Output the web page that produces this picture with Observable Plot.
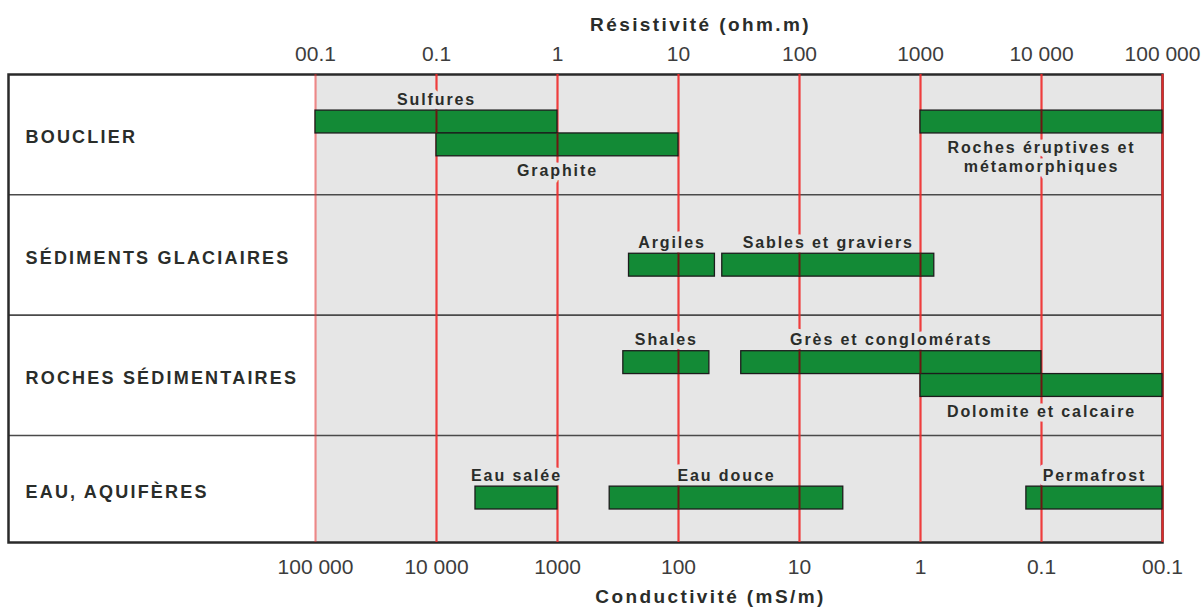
<!DOCTYPE html>
<html><head><meta charset="utf-8">
<script src="https://cdn.jsdelivr.net/npm/d3@7"></script>
<script src="https://cdn.jsdelivr.net/npm/@observablehq/plot@0.6"></script>
<style>
body{margin:0;background:#fff}
g[font-size="16"][font-weight="bold"]{letter-spacing:1.9px}
g[font-size="18"][font-weight="bold"]{letter-spacing:2.2px}
g[font-size="19"][font-weight="bold"]{letter-spacing:2.4px}
</style></head><body><div id="chart"></div>
<script>
// ---- data ----
const categories = ["BOUCLIER", "SÉDIMENTS GLACIAIRES", "ROCHES SÉDIMENTAIRES", "EAU, AQUIFÈRES"];
const materials = ["Sulfures", "Graphite", "Roches éruptives et\nmétamorphiques", "Argiles", "Sables et graviers", "Shales", "Grès et conglomérats", "Dolomite et calcaire", "Eau salée", "Eau douce", "Permafrost"];
const materialCategory = [0, 0, 0, 1, 1, 2, 2, 2, 3, 3, 3];
const resMin = [0.01, 0.1, 1000, 3.9, 23, 3.5, 33, 1000, 0.21, 2.7, 7500];     // ohm.m
const resMax = [1, 10, 100000, 20, 1300, 18, 10000, 100000, 1, 230, 100000];  // ohm.m
const lane = ["haut", "bas", "haut", "bas", "bas", "haut", "haut", "bas", "bas", "bas", "bas"];
const labelSide = ["dessus", "dessous", "dessous", "dessus", "dessus", "dessus", "dessus", "dessous", "dessus", "dessus", "dessus"];
const resTicks = [0.01, 0.1, 1, 10, 100, 1000, 10000, 100000];
const resTickLabels = ["00.1", "0.1", "1", "10", "100", "1000", "10 000", "100 000"];
const condTickLabels = ["100 000", "10 000", "1000", "100", "10", "1", "0.1", "00.1"];
const titleTop = "Résistivité (ohm.m)";
const titleBottom = "Conductivité (mS/m)";

// ---- layout helpers ----
const yMax = 3.89;
const laneFrac = {haut: 0.395, bas: 0.585};
const half = 0.095;
const rowH = r => Math.min(1, yMax - r);
const bars = materials.map((name, i) => {
  const r = materialCategory[i];
  const c = r + laneFrac[lane[i]] * rowH(r);
  return {name, x1: resMin[i], x2: resMax[i], y1: c - half, y2: c + half, side: labelSide[i]};
});
const above = bars.filter(d => d.side === "dessus");
const below = bars.filter(d => d.side === "dessous");
const rows = categories.map((c, i) => ({c, y: i + rowH(i) / 2}));
// grid lines seen through the bars
const crossings = bars.flatMap(b => resTicks.filter(t => t > b.x1 && t < b.x2).map(t => ({x: t, y1: b.y1, y2: b.y2})));

const GREEN = "#138a36", GRAY = "#e6e6e6", RED = "#f02a2a", INK = "#2a2d2a";
const labelStyle = {fontSize: 16, fontWeight: "bold"};
const haloStyle = {...labelStyle, text: "name", fill: GRAY, stroke: GRAY, strokeWidth: 9, strokeLinejoin: "round"};
const midX = d => Math.sqrt(d.x1 * d.x2);

const chart = Plot.plot({
  width: 1203, height: 607,
  marginLeft: 8, marginRight: 41, marginTop: 74, marginBottom: 65,
  style: {fontFamily: "'Liberation Sans', Arial, sans-serif", background: "#fff"},
  x: {type: "log", domain: [0.01, 100000], range: [315, 1162], axis: null},
  y: {domain: [0, yMax], reverse: true, axis: null},
  marks: [
    Plot.rect([0], {x1: () => resTicks[0], x2: () => resTicks[resTicks.length - 1], y1: () => 0, y2: () => yMax, fill: GRAY}),
    Plot.ruleY([1, 2, 3], {stroke: "#4a4a4a", strokeWidth: 1.6}),
    Plot.frame({stroke: "#2a2a2a", strokeWidth: 2.5}),
    Plot.ruleX(resTicks, {x: d => d, y1: 0, y2: yMax, stroke: RED, strokeWidth: 2.2,
      strokeOpacity: d => d === resTicks[0] ? 0.5 : 0.9}),
    // label background boxes hide the grid lines
    Plot.text(above, {x: midX, y: "y1", lineAnchor: "bottom", dy: -6, ...haloStyle}),
    Plot.text(below, {x: midX, y: "y2", lineAnchor: "top", lineHeight: 1.2, dy: 6, ...haloStyle}),
    Plot.rect(bars, {x1: "x1", x2: "x2", y1: "y1", y2: "y2", fill: GREEN, stroke: "#1c1c1c", strokeWidth: 1.3}),
    Plot.ruleX(crossings, {x: "x", y1: "y1", y2: "y2", stroke: "#6a1712", strokeWidth: 2}),
    Plot.text(above, {x: midX, y: "y1", text: "name", lineAnchor: "bottom", dy: -6, ...labelStyle, fill: INK}),
    Plot.text(below, {x: midX, y: "y2", text: "name", lineAnchor: "top", lineHeight: 1.2, dy: 6, ...labelStyle, fill: INK}),
    Plot.text(rows, {y: "y", text: "c", frameAnchor: "left", textAnchor: "start", dx: 17, dy: 3,
      fontSize: 18, fontWeight: "bold", fill: INK}),
    Plot.text(resTicks, {x: d => d, text: (d, i) => resTickLabels[i], frameAnchor: "top", lineAnchor: "middle", dy: -20,
      fontSize: 21, fill: "#3d3d3d"}),
    Plot.text(resTicks, {x: d => d, text: (d, i) => condTickLabels[i], frameAnchor: "bottom", lineAnchor: "middle", dy: 25,
      fontSize: 21, fill: "#3d3d3d"}),
    Plot.text([titleTop], {frameAnchor: "top", lineAnchor: "middle", dy: -50, dx: 115, fontSize: 19, fontWeight: "bold", fill: INK}),
    Plot.text([titleBottom], {frameAnchor: "bottom", lineAnchor: "middle", dy: 54, dx: 125, fontSize: 19, fontWeight: "bold", fill: INK})
  ]
});
document.getElementById("chart").append(chart);
</script></body></html>
